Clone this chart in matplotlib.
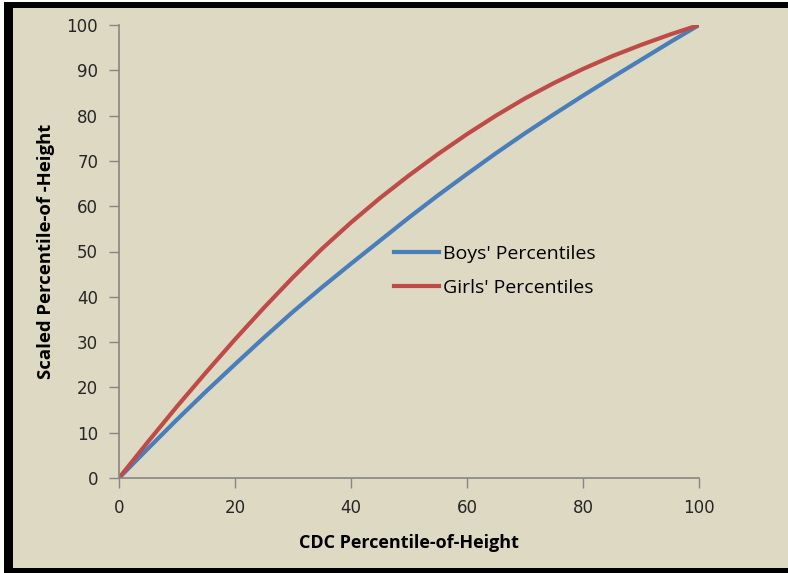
import matplotlib
matplotlib.use("Agg")
import matplotlib.pyplot as plt
from matplotlib.patches import Rectangle

# values
cdc_pct = [0, 5, 10, 15, 20, 25, 30, 35, 40, 45, 50,
           55, 60, 65, 70, 75, 80, 85, 90, 95, 100]
boys_pct = [0, 6.5, 12.9, 19.1, 25.1, 31.0, 36.7, 42.1, 47.3, 52.4, 57.5,
            62.4, 67.1, 71.7, 76.1, 80.3, 84.4, 88.4, 92.3, 96.2, 100]
girls_pct = [0, 8.0, 15.8, 23.3, 30.6, 37.6, 44.3, 50.6, 56.4, 61.8, 66.8,
             71.5, 75.9, 80.0, 83.8, 87.2, 90.3, 93.1, 95.6, 97.9, 100]
x_ticks = [0, 20, 40, 60, 80, 100]
y_ticks = [0, 10, 20, 30, 40, 50, 60, 70, 80, 90, 100]

BG = "#ddd9c3"
BLUE = "#4a7ebb"
RED = "#be4b48"
AXIS = "#868686"
INK = "#262626"

W, H = 788, 573
fig = plt.figure(figsize=(W / 100, H / 100), dpi=100, facecolor=BG)


def px_rect(x, y, w, h, color):
    # rectangle given in screen pixels (origin top-left)
    fig.patches.append(Rectangle((x / W, 1 - (y + h) / H), w / W, h / H,
                                 transform=fig.transFigure, color=color,
                                 linewidth=0, zorder=0))


px_rect(0, 0, 4, H, "white")
px_rect(4, 0, W - 4, 2, "white")
px_rect(4, 2, 9, H - 2, "black")       # left frame
px_rect(13, 2, W - 13, 6, "black")     # top frame
px_rect(13, H - 5, W - 13, 5, "black")  # bottom frame

ax = fig.add_axes([119 / W, 95 / H, 580 / W, 453 / H])
ax.patch.set_alpha(0)

ax.plot(cdc_pct, boys_pct, color=BLUE, linewidth=3, label="Boys' Percentiles",
        solid_joinstyle="round")
ax.plot(cdc_pct, girls_pct, color=RED, linewidth=3, label="Girls' Percentiles",
        solid_joinstyle="round")

ax.set_xlim(0, 100)
ax.set_ylim(0, 100)
ax.set_xticks(x_ticks)
ax.set_yticks(y_ticks)
ax.tick_params(direction="out", length=7, width=1, color=AXIS,
               labelsize=12, labelcolor=INK, pad=8)
for side in ("top", "right"):
    ax.spines[side].set_visible(False)
for side in ("left", "bottom"):
    ax.spines[side].set_color(AXIS)
    ax.spines[side].set_linewidth(1.2)

ax.set_xlabel("CDC Percentile-of-Height", fontsize=13, fontweight="bold",
              family="Open Sans", color="black", labelpad=12)
ax.set_ylabel("Scaled Percentile-of -Height", fontsize=13.3, fontweight="bold",
              family="Open Sans", color="black", labelpad=8)

ax.legend(loc="center left", bbox_to_anchor=(0.474, 0.457), frameon=False,
          prop={"family": "Open Sans", "size": 14}, handlelength=2.3,
          handletextpad=0.2, labelspacing=0.85, borderpad=0, borderaxespad=0)

fig.savefig("out.png", dpi=100, facecolor=BG)
